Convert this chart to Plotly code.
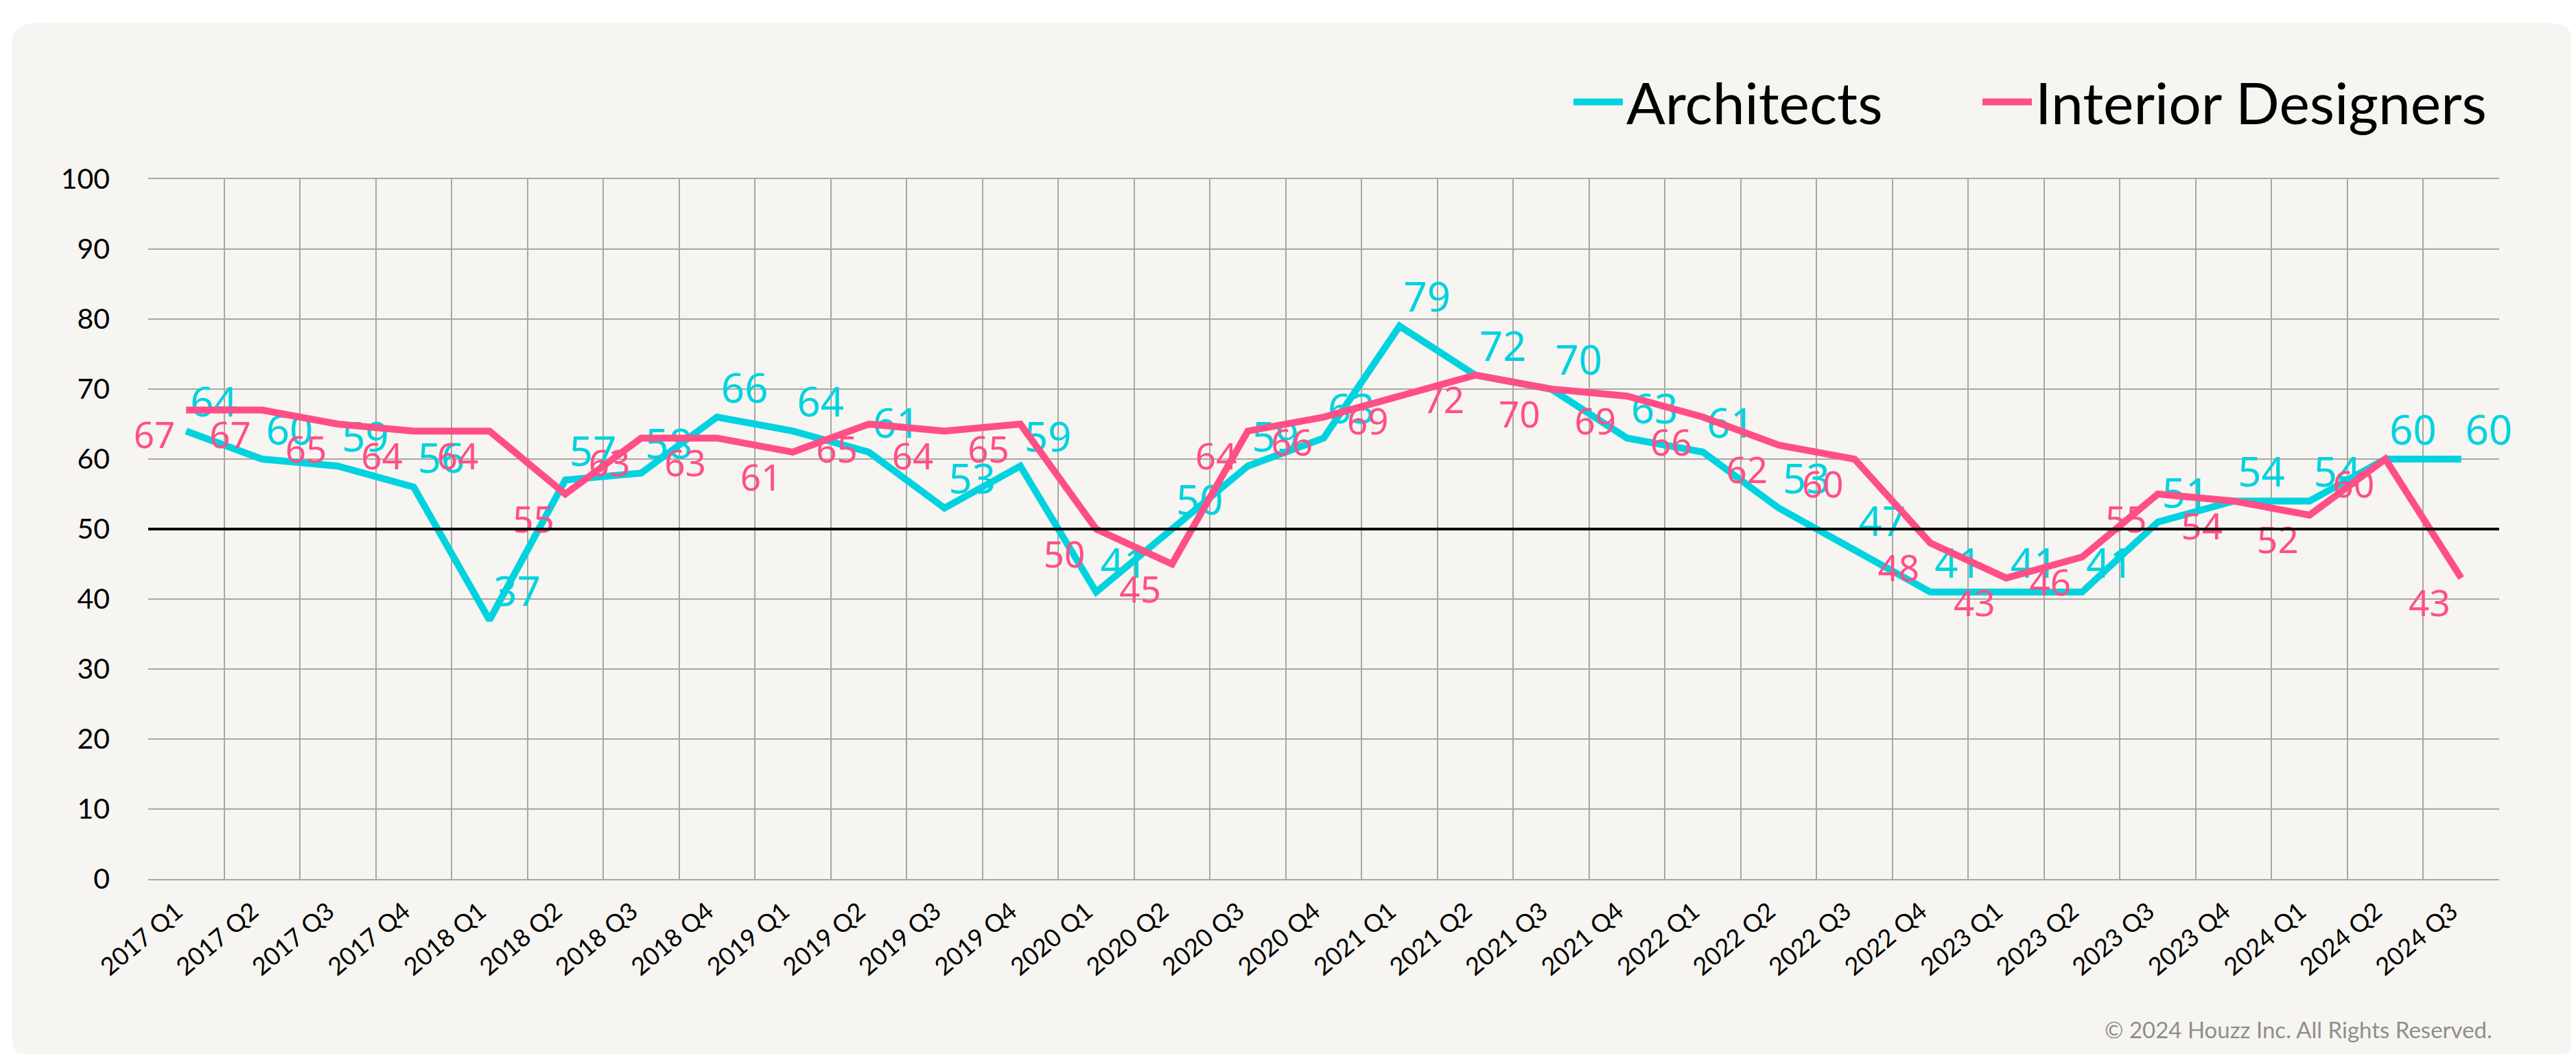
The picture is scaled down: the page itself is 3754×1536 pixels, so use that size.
import plotly.graph_objects as go

quarters = ["2017 Q1", "2017 Q2", "2017 Q3", "2017 Q4",
            "2018 Q1", "2018 Q2", "2018 Q3", "2018 Q4",
            "2019 Q1", "2019 Q2", "2019 Q3", "2019 Q4",
            "2020 Q1", "2020 Q2", "2020 Q3", "2020 Q4",
            "2021 Q1", "2021 Q2", "2021 Q3", "2021 Q4",
            "2022 Q1", "2022 Q2", "2022 Q3", "2022 Q4",
            "2023 Q1", "2023 Q2", "2023 Q3", "2023 Q4",
            "2024 Q1", "2024 Q2", "2024 Q3"]

architects = [64, 60, 59, 56, 37, 57, 58, 66, 64, 61, 53, 59, 41, 50, 59, 63,
              79, 72, 70, 63, 61, 53, 47, 41, 41, 41, 51, 54, 54, 60, 60]

interior_designers = [67, 67, 65, 64, 64, 55, 63, 63, 61, 65, 64, 65, 50, 45, 64, 66,
                      69, 72, 70, 69, 66, 62, 60, 48, 43, 46, 55, 54, 52, 60, 43]

CYAN = "#00D3DF"
PINK = "#FF4F86"
CARD = "#F7F5F1"

W, H = 3754, 1536
ML, MR, MT, MB = 208, 120, 253, 263
PW, PH = W - ML - MR, H - MT - MB


def px_to_paper(x, y):
    return (x - ML) / PW, (H - MB - y) / PH


def card_path(x0, y0, x1, y1, r):
    def p(x, y):
        a, b = px_to_paper(x, y)
        return f"{a:.5f},{b:.5f}"
    return (f"M {p(x0 + r, y0)} L {p(x1 - r, y0)} Q {p(x1, y0)} {p(x1, y0 + r)} "
            f"L {p(x1, y1 - r)} Q {p(x1, y1)} {p(x1 - r, y1)} "
            f"L {p(x0 + r, y1)} Q {p(x0, y1)} {p(x0, y1 - r)} "
            f"L {p(x0, y0 + r)} Q {p(x0, y0)} {p(x0 + r, y0)} Z")


fig = go.Figure()

fig.add_trace(go.Scatter(
    x=quarters, y=architects, name="Architects", mode="lines+markers+text",
    line=dict(color=CYAN, width=10),
    marker=dict(size=8, color="rgba(0,0,0,0)"),
    text=[str(v) for v in architects], textposition="top right",
    textfont=dict(family="Noto Sans", size=60, color=CYAN),
    cliponaxis=False, legend="legend",
))

fig.add_trace(go.Scatter(
    x=quarters, y=interior_designers, name="Interior Designers", mode="lines+markers+text",
    line=dict(color=PINK, width=10),
    marker=dict(size=24, color="rgba(0,0,0,0)"),
    text=[str(v) for v in interior_designers], textposition="bottom left",
    textfont=dict(family="Noto Sans", size=53, color=PINK),
    cliponaxis=False, legend="legend2",
))

# card background
fig.add_shape(type="path", xref="paper", yref="paper",
              path=card_path(9, 26, 3742, 1534, 32),
              fillcolor=CARD, line=dict(width=0), layer="below")

# reference line at 50
fig.add_shape(type="line", xref="paper", yref="y", x0=0, x1=1, y0=50, y1=50,
              line=dict(color="black", width=4), layer="above")

fig.add_annotation(text="© 2024 Houzz Inc. All Rights Reserved.",
                   xref="paper", yref="paper",
                   x=px_to_paper(3626, 0)[0], y=px_to_paper(0, 1492)[1],
                   xanchor="right", yanchor="middle", showarrow=False,
                   font=dict(family="Lato", size=33, color="#8E8E8E"))

legend_common = dict(orientation="h", yanchor="middle", y=1.11, xanchor="left",
                     font=dict(family="Lato", size=84, color="black"),
                     bgcolor="rgba(0,0,0,0)", itemwidth=72)

fig.update_layout(
    width=W, height=H,
    margin=dict(l=ML, r=MR, t=MT, b=MB),
    paper_bgcolor="white",
    plot_bgcolor="rgba(0,0,0,0)",
    showlegend=True,
    legend=dict(x=px_to_paper(2280, 0)[0], **legend_common),
    legend2=dict(x=px_to_paper(2876, 0)[0], **legend_common),
    xaxis=dict(type="category", tickson="boundaries", showgrid=True,
               gridcolor="#A9A7A2", gridwidth=2, ticks="",
               tickangle=-40, tickfont=dict(family="Lato", size=36, color="black"),
               range=[-0.5, 30.5], showline=True, linecolor="#A9A7A2", linewidth=2,
               mirror=True, ticklabelstandoff=10, ticklabelshift=-14),
    yaxis=dict(range=[0, 100], dtick=10, showgrid=True, gridcolor="#A9A7A2",
               gridwidth=2, zeroline=False, ticks="",
               tickfont=dict(family="Lato", size=41, color="black"),
               ticklabelstandoff=55),
)

fig.write_html("out.html")
